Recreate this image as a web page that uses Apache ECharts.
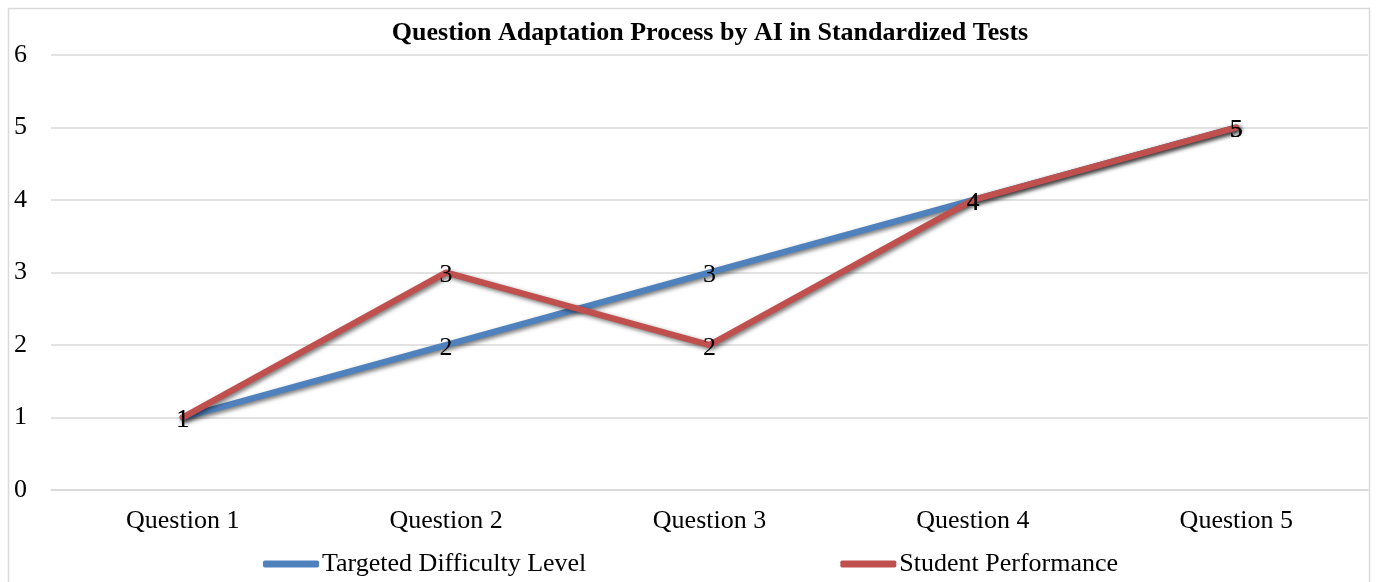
<!DOCTYPE html>
<html>
<head>
<meta charset="utf-8">
<script src="https://cdn.jsdelivr.net/npm/echarts@6/dist/echarts.min.js"></script>
<style>
    html, body { margin: 0; padding: 0; background: #fff; }
    #chart { width: 1376px; height: 582px; }
</style>
</head>
<body>
<div id="chart"></div>
<script>
var categories = ['Question 1', 'Question 2', 'Question 3', 'Question 4', 'Question 5'];
var targetedDifficulty = [1, 2, 3, 4, 5];
var studentPerformance = [1, 3, 2, 4, 5];
var yTicks = [0, 6, 1]; // min, max, interval

var serif = '"Liberation Serif", "DejaVu Serif", serif';
var chart = echarts.init(document.getElementById('chart'));

function lineSeries(name, data, color) {
    return {
        name: name,
        type: 'line',
        data: data,
        symbol: 'circle',
        symbolSize: 1,
        showSymbol: true,
        lineStyle: {
            color: color,
            width: 6,
            cap: 'round',
            shadowColor: 'rgba(0,0,0,0.55)',
            shadowBlur: 4,
            shadowOffsetX: 2,
            shadowOffsetY: 2
        },
        itemStyle: { color: color },
        label: {
            show: true,
            position: 'inside',
            color: '#000',
            fontFamily: serif,
            fontSize: 26,
            offset: [0, 3]
        },
        emphasis: { disabled: true }
    };
}

var option = {
    animation: false,
    backgroundColor: '#fff',
    title: {
        text: 'Question Adaptation Process by AI in Standardized Tests',
        left: 705,
        top: 15,
        textAlign: 'center',
        textStyle: {
            fontFamily: serif,
            fontWeight: 'bold',
            fontSize: 26,
            color: '#000'
        }
    },
    graphic: [{
        type: 'rect',
        shape: { x: 8.5, y: 8.5, width: 1361, height: 600 },
        style: { fill: 'none', stroke: '#d9d9d9', lineWidth: 1.5 },
        silent: true,
        z: -1
    }],
    legend: {
        bottom: 0,
        left: 258,
        itemGap: 254,
        itemWidth: 56,
        itemHeight: 7,
        icon: 'roundRect',
        textStyle: {
            fontFamily: serif,
            fontSize: 26,
            color: '#000',
            padding: [0, 0, 0, -2]
        },
        data: ['Targeted Difficulty Level', 'Student Performance']
    },
    grid: {
        left: 51,
        right: 8,
        top: 55,
        bottom: 92,
        containLabel: false
    },
    xAxis: {
        type: 'category',
        data: categories,
        boundaryGap: true,
        axisLine: { lineStyle: { color: '#d9d9d9', width: 1.5 } },
        axisTick: { show: false },
        axisLabel: {
            fontFamily: serif,
            fontSize: 26,
            color: '#000',
            margin: 18
        }
    },
    yAxis: {
        type: 'value',
        min: yTicks[0],
        max: yTicks[1],
        interval: yTicks[2],
        axisLine: { show: false },
        axisTick: { show: false },
        splitLine: { lineStyle: { color: '#d9d9d9', width: 1.5 } },
        axisLabel: {
            fontFamily: serif,
            fontSize: 26,
            color: '#000',
            margin: 24
        }
    },
    series: [
        lineSeries('Targeted Difficulty Level', targetedDifficulty, '#4F81BD'),
        lineSeries('Student Performance', studentPerformance, '#C0504D')
    ]
};

chart.setOption(option);
</script>
</body>
</html>
